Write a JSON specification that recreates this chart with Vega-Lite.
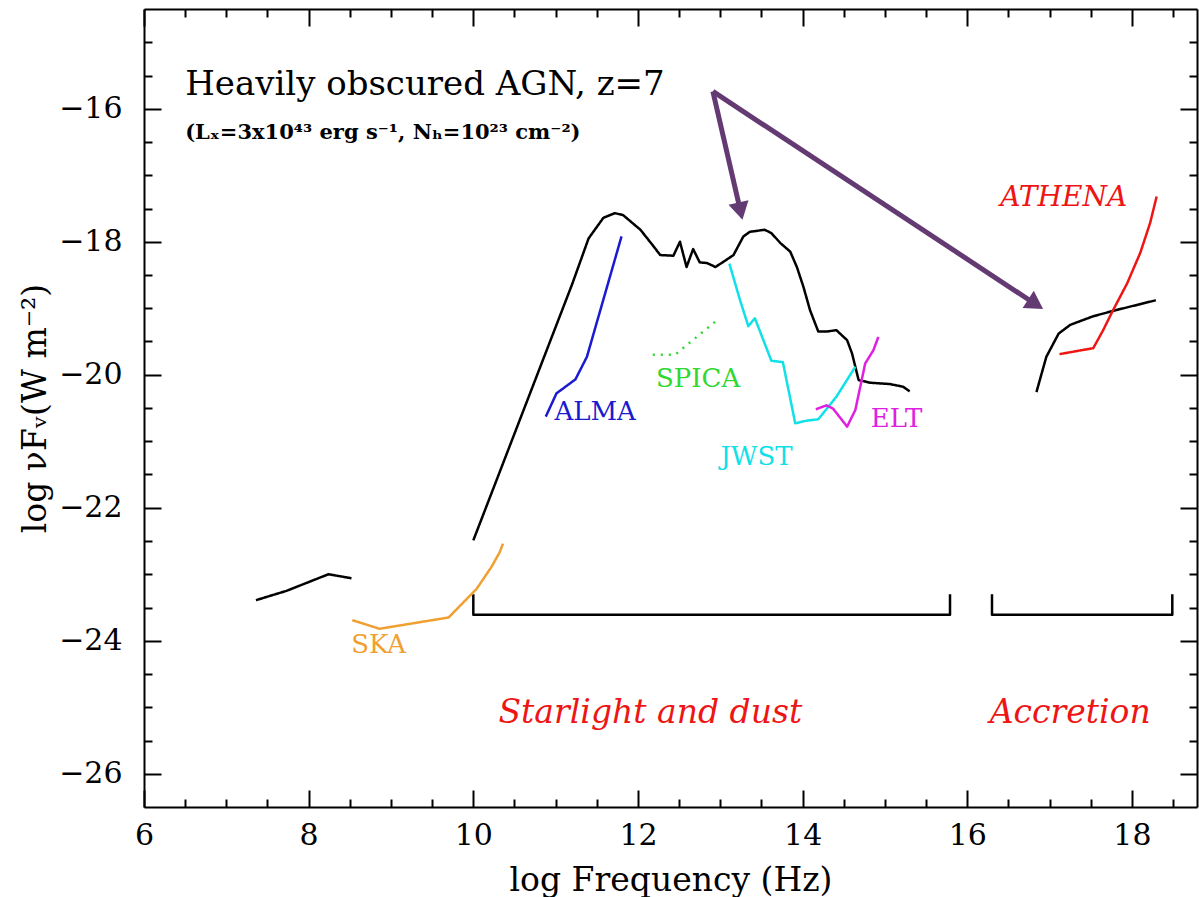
{
  "$schema": "https://vega.github.io/schema/vega-lite/v6.json",
  "width": 1053,
  "height": 798,
  "autosize": {"type": "none"},
  "padding": {"left": 144, "top": 9, "right": 2, "bottom": 90},
  "background": "white",
  "config": {
    "view": {"stroke": null},
    "axis": {
      "grid": false, "domainColor": "black", "domainWidth": 2, "tickColor": "black", "tickWidth": 2,
      "labelFont": "DejaVu Serif", "labelFontSize": 30, "labelColor": "black",
      "titleFont": "DejaVu Serif", "titleFontSize": 33, "titleFontWeight": "normal", "titleColor": "black",
      "labelOverlap": false, "labelFlush": false
    }
  },
  "datasets": {
    "curves": [
      {"s": "sedRadio", "i": 1, "x": 7.36, "y": -23.39},
      {"s": "sedRadio", "i": 2, "x": 7.73, "y": -23.25},
      {"s": "sedRadio", "i": 3, "x": 8.24, "y": -23.0},
      {"s": "sedRadio", "i": 4, "x": 8.52, "y": -23.06},
      {"s": "sedIR", "i": 1, "x": 10.0, "y": -22.49},
      {"s": "sedIR", "i": 2, "x": 11.2, "y": -18.64},
      {"s": "sedIR", "i": 3, "x": 11.4, "y": -17.95},
      {"s": "sedIR", "i": 4, "x": 11.58, "y": -17.64},
      {"s": "sedIR", "i": 5, "x": 11.72, "y": -17.57},
      {"s": "sedIR", "i": 6, "x": 11.82, "y": -17.6},
      {"s": "sedIR", "i": 7, "x": 12.03, "y": -17.82},
      {"s": "sedIR", "i": 8, "x": 12.19, "y": -18.07},
      {"s": "sedIR", "i": 9, "x": 12.27, "y": -18.2},
      {"s": "sedIR", "i": 10, "x": 12.43, "y": -18.21},
      {"s": "sedIR", "i": 11, "x": 12.51, "y": -18.0},
      {"s": "sedIR", "i": 12, "x": 12.59, "y": -18.38},
      {"s": "sedIR", "i": 13, "x": 12.67, "y": -18.11},
      {"s": "sedIR", "i": 14, "x": 12.75, "y": -18.31},
      {"s": "sedIR", "i": 15, "x": 12.84, "y": -18.32},
      {"s": "sedIR", "i": 16, "x": 12.94, "y": -18.38},
      {"s": "sedIR", "i": 17, "x": 13.04, "y": -18.3},
      {"s": "sedIR", "i": 18, "x": 13.16, "y": -18.2},
      {"s": "sedIR", "i": 19, "x": 13.28, "y": -17.92},
      {"s": "sedIR", "i": 20, "x": 13.36, "y": -17.85},
      {"s": "sedIR", "i": 21, "x": 13.54, "y": -17.82},
      {"s": "sedIR", "i": 22, "x": 13.62, "y": -17.87},
      {"s": "sedIR", "i": 23, "x": 13.73, "y": -18.02},
      {"s": "sedIR", "i": 24, "x": 13.85, "y": -18.15},
      {"s": "sedIR", "i": 25, "x": 13.93, "y": -18.38},
      {"s": "sedIR", "i": 26, "x": 14.01, "y": -18.68},
      {"s": "sedIR", "i": 27, "x": 14.09, "y": -19.03},
      {"s": "sedIR", "i": 28, "x": 14.19, "y": -19.35},
      {"s": "sedIR", "i": 29, "x": 14.29, "y": -19.35},
      {"s": "sedIR", "i": 30, "x": 14.41, "y": -19.33},
      {"s": "sedIR", "i": 31, "x": 14.54, "y": -19.48},
      {"s": "sedIR", "i": 32, "x": 14.6, "y": -19.68},
      {"s": "sedIR", "i": 33, "x": 14.68, "y": -20.08},
      {"s": "sedIR", "i": 34, "x": 14.82, "y": -20.12},
      {"s": "sedIR", "i": 35, "x": 15.06, "y": -20.14},
      {"s": "sedIR", "i": 36, "x": 15.22, "y": -20.18},
      {"s": "sedIR", "i": 37, "x": 15.3, "y": -20.25},
      {"s": "sedX", "i": 1, "x": 16.84, "y": -20.26},
      {"s": "sedX", "i": 2, "x": 16.96, "y": -19.73},
      {"s": "sedX", "i": 3, "x": 17.11, "y": -19.38},
      {"s": "sedX", "i": 4, "x": 17.25, "y": -19.25},
      {"s": "sedX", "i": 5, "x": 17.53, "y": -19.12},
      {"s": "sedX", "i": 6, "x": 17.77, "y": -19.04},
      {"s": "sedX", "i": 7, "x": 18.06, "y": -18.95},
      {"s": "sedX", "i": 8, "x": 18.29, "y": -18.88},
      {"s": "bracketStar", "i": 1, "x": 10.0, "y": -23.3},
      {"s": "bracketStar", "i": 2, "x": 10.0, "y": -23.61},
      {"s": "bracketStar", "i": 3, "x": 15.79, "y": -23.61},
      {"s": "bracketStar", "i": 4, "x": 15.79, "y": -23.3},
      {"s": "bracketAcc", "i": 1, "x": 16.3, "y": -23.3},
      {"s": "bracketAcc", "i": 2, "x": 16.3, "y": -23.61},
      {"s": "bracketAcc", "i": 3, "x": 18.49, "y": -23.61},
      {"s": "bracketAcc", "i": 4, "x": 18.49, "y": -23.3},
      {"s": "SKA", "i": 1, "x": 8.53, "y": -23.69},
      {"s": "SKA", "i": 2, "x": 8.86, "y": -23.82},
      {"s": "SKA", "i": 3, "x": 9.7, "y": -23.65},
      {"s": "SKA", "i": 4, "x": 10.04, "y": -23.22},
      {"s": "SKA", "i": 5, "x": 10.22, "y": -22.89},
      {"s": "SKA", "i": 6, "x": 10.32, "y": -22.67},
      {"s": "SKA", "i": 7, "x": 10.36, "y": -22.54},
      {"s": "ALMA", "i": 1, "x": 10.88, "y": -20.63},
      {"s": "ALMA", "i": 2, "x": 11.01, "y": -20.28},
      {"s": "ALMA", "i": 3, "x": 11.24, "y": -20.07},
      {"s": "ALMA", "i": 4, "x": 11.38, "y": -19.73},
      {"s": "ALMA", "i": 5, "x": 11.8, "y": -17.92},
      {"s": "SPICA", "i": 1, "x": 12.18, "y": -19.7},
      {"s": "SPICA", "i": 2, "x": 12.45, "y": -19.7},
      {"s": "SPICA", "i": 3, "x": 12.94, "y": -19.2},
      {"s": "JWST", "i": 1, "x": 13.11, "y": -18.33},
      {"s": "JWST", "i": 2, "x": 13.24, "y": -18.88},
      {"s": "JWST", "i": 3, "x": 13.34, "y": -19.27},
      {"s": "JWST", "i": 4, "x": 13.42, "y": -19.15},
      {"s": "JWST", "i": 5, "x": 13.62, "y": -19.79},
      {"s": "JWST", "i": 6, "x": 13.76, "y": -19.81},
      {"s": "JWST", "i": 7, "x": 13.91, "y": -20.73},
      {"s": "JWST", "i": 8, "x": 14.05, "y": -20.69},
      {"s": "JWST", "i": 9, "x": 14.19, "y": -20.67},
      {"s": "JWST", "i": 10, "x": 14.41, "y": -20.33},
      {"s": "JWST", "i": 11, "x": 14.64, "y": -19.88},
      {"s": "ELT", "i": 1, "x": 14.16, "y": -20.52},
      {"s": "ELT", "i": 2, "x": 14.29, "y": -20.46},
      {"s": "ELT", "i": 3, "x": 14.37, "y": -20.51},
      {"s": "ELT", "i": 4, "x": 14.54, "y": -20.78},
      {"s": "ELT", "i": 5, "x": 14.64, "y": -20.53},
      {"s": "ELT", "i": 6, "x": 14.7, "y": -20.18},
      {"s": "ELT", "i": 7, "x": 14.76, "y": -19.83},
      {"s": "ELT", "i": 8, "x": 14.86, "y": -19.63},
      {"s": "ELT", "i": 9, "x": 14.92, "y": -19.43},
      {"s": "ATHENA", "i": 1, "x": 17.12, "y": -19.69},
      {"s": "ATHENA", "i": 2, "x": 17.53, "y": -19.6},
      {"s": "ATHENA", "i": 3, "x": 17.65, "y": -19.33},
      {"s": "ATHENA", "i": 4, "x": 17.77, "y": -19.03},
      {"s": "ATHENA", "i": 5, "x": 17.94, "y": -18.63},
      {"s": "ATHENA", "i": 6, "x": 18.1, "y": -18.17},
      {"s": "ATHENA", "i": 7, "x": 18.22, "y": -17.72},
      {"s": "ATHENA", "i": 8, "x": 18.3, "y": -17.32}
    ],
    "instLabels": [
      {"t": "SKA", "s": "SKA", "x": 8.85, "y": -24.07},
      {"t": "ALMA", "s": "ALMA", "x": 11.48, "y": -20.56},
      {"t": "SPICA", "s": "SPICA", "x": 12.73, "y": -20.06},
      {"t": "JWST", "s": "JWST", "x": 13.44, "y": -21.24},
      {"t": "ELT", "s": "ELT", "x": 15.14, "y": -20.66}
    ],
    "regionLabels": [
      {"t": "Starlight and dust", "x": 12.15, "y": -25.08},
      {"t": "Accretion", "x": 17.25, "y": -25.08}
    ],
    "arrows": [
      {"a": "mid", "x": 12.91, "y": -15.74, "x2": 13.245, "y2": -17.54},
      {"a": "xray", "x": 12.91, "y": -15.74, "x2": 16.83, "y2": -18.94}
    ],
    "heads": [
      {"a": "mid", "x": 13.245, "y": -17.54},
      {"a": "xray", "x": 16.83, "y": -18.94}
    ]
  },
  "encoding": {
    "x": {"field": "x", "type": "quantitative", "scale": {"domain": [6, 18.79], "nice": false, "zero": false}, "axis": null},
    "y": {"field": "y", "type": "quantitative", "scale": {"domain": [-26.5, -14.5], "nice": false, "zero": false}, "axis": null}
  },
  "layer": [
    {
      "data": {"name": "curves"},
      "mark": {"type": "line", "strokeJoin": "round", "strokeCap": "butt"},
      "encoding": {
        "x": {"field": "x", "type": "quantitative", "scale": {"domain": [6, 18.79], "nice": false, "zero": false},
          "axis": {"orient": "bottom", "values": [6, 6.5, 7, 7.5, 8, 8.5, 9, 9.5, 10, 10.5, 11, 11.5, 12, 12.5, 13, 13.5, 14, 14.5, 15, 15.5, 16, 16.5, 17, 17.5, 18, 18.5],
            "tickSize": {"condition": {"test": "abs(datum.value % 2) < 0.01", "value": -17}, "value": -8},
            "labelExpr": "abs(datum.value % 2) < 0.01 ? format(datum.value, 'd') : ''",
            "labelPadding": 30, "title": "log Frequency (Hz)", "titlePadding": 5}},
        "y": {"field": "y", "type": "quantitative", "scale": {"domain": [-26.5, -14.5], "nice": false, "zero": false},
          "axis": {"orient": "left", "values": [-26, -25.5, -25, -24.5, -24, -23.5, -23, -22.5, -22, -21.5, -21, -20.5, -20, -19.5, -19, -18.5, -18, -17.5, -17, -16.5, -16, -15.5, -15],
            "tickSize": {"condition": {"test": "abs(datum.value % 2) < 0.01", "value": -17}, "value": -8},
            "labelExpr": "abs(datum.value % 2) < 0.01 ? format(datum.value, 'd') : ''",
            "labelPadding": 39, "title": "log νFᵥ(W m⁻²)", "titlePadding": 6}},
        "order": {"field": "i", "type": "quantitative"},
        "detail": {"field": "s"},
        "color": {"field": "s", "type": "nominal", "legend": null,
          "scale": {"domain": ["sedRadio", "sedIR", "sedX", "bracketStar", "bracketAcc", "SKA", "ALMA", "SPICA", "JWST", "ELT", "ATHENA"],
            "range": ["#000000", "#000000", "#000000", "#000000", "#000000", "#f0a030", "#1a1ad0", "#30d830", "#10e0e8", "#e020e0", "#ee1515"]}},
        "strokeDash": {"field": "s", "type": "nominal", "legend": null,
          "scale": {"domain": ["sedRadio", "sedIR", "sedX", "bracketStar", "bracketAcc", "SKA", "ALMA", "SPICA", "JWST", "ELT", "ATHENA"],
            "range": [[1, 0], [1, 0], [1, 0], [1, 0], [1, 0], [1, 0], [1, 0], [2, 6], [1, 0], [1, 0], [1, 0]]}},
        "strokeWidth": {"field": "s", "type": "ordinal", "legend": null,
          "scale": {"domain": ["sedRadio", "sedIR", "sedX", "bracketStar", "bracketAcc", "SKA", "ALMA", "SPICA", "JWST", "ELT", "ATHENA"],
            "range": [2.5, 2.5, 2.5, 2, 2, 2, 2, 2.5, 2, 2, 2]}}
      }
    },
    {
      "data": {"name": "arrows"},
      "mark": {"type": "rule", "color": "#633a72", "strokeWidth": 5, "strokeCap": "butt"},
      "encoding": {
        "x": {"field": "x", "type": "quantitative", "scale": {"domain": [6, 18.79], "nice": false, "zero": false},
          "axis": {"orient": "top", "values": [6, 6.5, 7, 7.5, 8, 8.5, 9, 9.5, 10, 10.5, 11, 11.5, 12, 12.5, 13, 13.5, 14, 14.5, 15, 15.5, 16, 16.5, 17, 17.5, 18, 18.5],
            "tickSize": {"condition": {"test": "abs(datum.value % 2) < 0.01", "value": -17}, "value": -8},
            "labels": false, "title": null}},
        "y": {"field": "y", "type": "quantitative", "scale": {"domain": [-26.5, -14.5], "nice": false, "zero": false},
          "axis": {"orient": "right", "values": [-26, -25.5, -25, -24.5, -24, -23.5, -23, -22.5, -22, -21.5, -21, -20.5, -20, -19.5, -19, -18.5, -18, -17.5, -17, -16.5, -16, -15.5, -15],
            "tickSize": {"condition": {"test": "abs(datum.value % 2) < 0.01", "value": -17}, "value": -8},
            "labels": false, "title": null}},
        "x2": {"field": "x2"},
        "y2": {"field": "y2"}
      }
    },
    {
      "data": {"name": "heads"},
      "mark": {"type": "point", "shape": "triangle-down", "filled": true, "color": "#633a72", "opacity": 1, "size": 420},
      "encoding": {
        "angle": {"field": "a", "type": "nominal", "legend": null, "scale": {"domain": ["mid", "xray"], "range": [347, 303]}}
      }
    },
    {
      "data": {"name": "instLabels"},
      "mark": {"type": "text", "font": "DejaVu Serif", "fontSize": 26, "align": "center", "baseline": "middle"},
      "encoding": {
        "text": {"field": "t"},
        "color": {"field": "s", "type": "nominal", "legend": null,
          "scale": {"domain": ["sedRadio", "sedIR", "sedX", "bracketStar", "bracketAcc", "SKA", "ALMA", "SPICA", "JWST", "ELT", "ATHENA"],
            "range": ["#000000", "#000000", "#000000", "#000000", "#000000", "#f0a030", "#1a1ad0", "#30d830", "#10e0e8", "#e020e0", "#ee1515"]}}
      }
    },
    {
      "data": {"values": [{"t": "ATHENA", "x": 17.17, "y": -17.34}]},
      "mark": {"type": "text", "font": "DejaVu Serif", "fontSize": 28, "fontStyle": "italic", "align": "center", "baseline": "middle", "color": "#ee1515"},
      "encoding": {"text": {"field": "t"}}
    },
    {
      "data": {"name": "regionLabels"},
      "mark": {"type": "text", "font": "DejaVu Serif", "fontSize": 33, "fontStyle": "italic", "align": "center", "baseline": "middle", "color": "#ee1515"},
      "encoding": {"text": {"field": "t"}}
    },
    {
      "data": {"values": [{"t": "Heavily obscured AGN, z=7", "x": 6.5, "y": -15.64}]},
      "mark": {"type": "text", "font": "DejaVu Serif", "fontSize": 34, "align": "left", "baseline": "middle", "color": "black"},
      "encoding": {"text": {"field": "t"}}
    },
    {
      "data": {"values": [{"t": "(Lₓ=3x10⁴³ erg s⁻¹, Nₕ=10²³ cm⁻²)", "x": 6.5, "y": -16.37}]},
      "mark": {"type": "text", "font": "DejaVu Serif", "fontSize": 21, "fontWeight": "bold", "align": "left", "baseline": "middle", "color": "black"},
      "encoding": {"text": {"field": "t"}}
    }
  ],
  "resolve": {"axis": {"x": "independent", "y": "independent"}}
}
